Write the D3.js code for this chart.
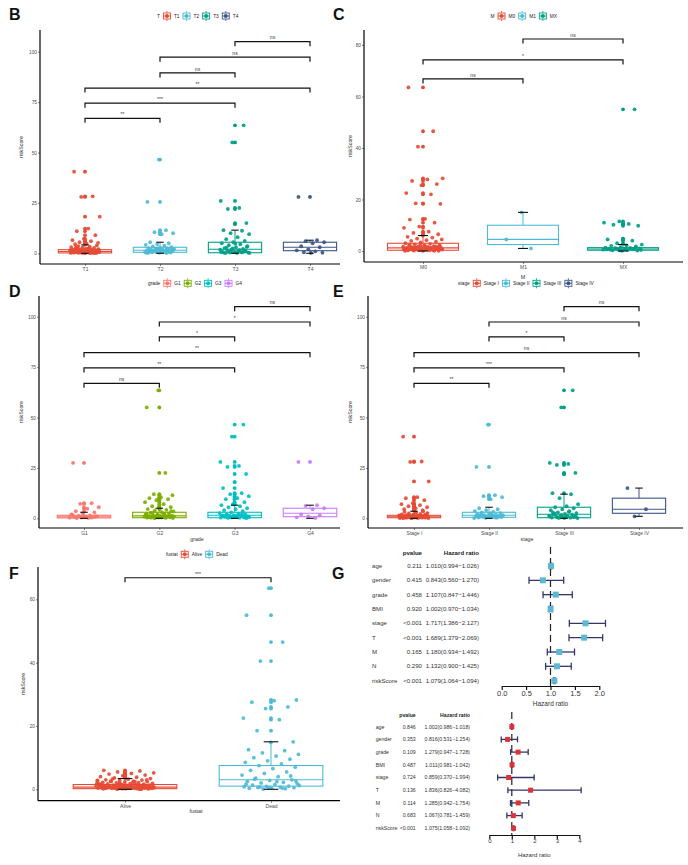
<!DOCTYPE html>
<html><head><meta charset="utf-8">
<script src="https://cdn.jsdelivr.net/npm/d3@7"></script>
<style>body{margin:0;background:#fff}svg{display:block}text{font-family:"Liberation Sans",Arial,Helvetica,sans-serif}</style>
</head><body><svg id="c" width="688" height="865"></svg>
<script>
// ---------- DATA ----------
const npg = ["#E64B35","#4DBBD5","#00A087","#3C5488"];
const hue4 = ["#F8766D","#7CAE00","#00BFC4","#C77CFF"];

// Panel B: T
const tCats = ["T1","T2","T3","T4"];
const tStats = [[0,0.2,0.9,1.8,4.2],[0,0.5,1.5,3.0,5.5],[0,0.3,2.0,5.5,11.5],[0,1.3,3.0,5.5,6.5]]; // [wlo,q1,med,q3,whi]
const tPoints = [
 [40.5,28.3,28.0,18.2,12.3,11.0,9.0,7.2,6.5,6.0,5.5,5.2,4.8,4.5,0.1,0.2,0.2,0.3,0.3,0.4,0.4,0.5,0.5,0.6,0.6,0.7,0.7,0.8,0.8,0.9,0.9,1.0,1.0,1.1,1.2,1.2,1.3,1.4,1.5,1.5,1.6,1.7,1.8,1.9,2.0,2.1,2.3,2.5,2.7,2.9,3.1,3.3,3.6,3.9,0.15,0.35,0.55,0.75,0.95,1.15,1.35,0.25,0.45,0.65,0.1,0.3,0.5,0.7,0.9,1.1,1.3,1.6,2.2,2.6,0.2,0.4,0.6,0.8,1.0,1.4,1.8,3.0],
 [46.5,25.5,11.5,10.5,10.0,9.5,5.5,5.0,4.6,4.2,3.8,3.4,3.0,2.8,2.6,2.4,2.2,2.0,1.9,1.8,1.7,1.6,1.5,1.4,1.3,1.2,1.1,1.0,0.9,0.8,0.7,0.6,0.5,0.4,0.3,0.2,0.1,1.5,2.1,0.9,1.2,0.6,2.5,0.3,0.8,1.0,1.4,1.9,0.5,2.3,0.7],
 [63.5,55.0,26.0,22.5,22.0,15.0,14.5,11.5,11.2,10.0,9.5,8.0,7.0,6.2,5.5,5.0,4.5,4.0,3.5,3.0,2.6,2.2,2.0,1.8,1.5,1.3,1.1,0.9,0.7,0.5,0.4,0.3,0.2,0.1,1.0,2.5,0.6,1.6,0.8,3.2,4.8,0.35,0.5,1.2,0.2,0.9,2.8,1.4],
 [28.0,6.5,6.0,5.5,5.0,3.5,3.0,2.0,1.5,1.0,0.5,0.3,0.2]
];
const tComps = [[2,3,105,"ns"],[1,3,97.3,"ns"],[1,2,89.5,"ns"],[0,3,82,"**"],[0,2,74.5,"***"],[0,1,67,"**"]];

// Panel C: M
const mCats = ["M0","M1","MX"];
const mStats = [[0,0.3,1.2,3.0,6.0],[1,2.5,4.5,10,15],[0,0.3,0.8,1.3,2.5]];
const mPoints = [
 [63.5,46.5,40.5,28.2,27.8,27.2,26.0,25.5,22.5,22.0,18.5,18.3,12.5,12.2,11.0,9.5,9.0,7.5,7.0,6.5,6.0,5.5,5.2,4.8,4.5,4.2,3.9,3.6,3.3,3.0,2.8,2.6,2.4,2.2,2.0,1.9,1.8,1.7,1.6,1.5,1.4,1.3,1.2,1.1,1.0,0.9,0.8,0.7,0.6,0.5,0.4,0.3,0.2,0.1,0.15,0.25,0.35,0.45,0.55,0.65,0.75,0.85,0.95,1.05,1.25,1.45,1.65,2.1,2.5,0.05,0.5,0.8,1.0,0.3,0.6,0.2,0.4,0.7,0.9,1.1,1.3,1.5,1.8,2.3,0.1,0.5,1.0,1.6],
 [15,4.5,1],
 [55,11.5,11.0,10.5,10.2,9.8,4.8,4.5,4.0,3.0,2.5,2.2,2.0,1.8,1.5,1.3,1.2,1.1,1.0,0.9,0.8,0.7,0.6,0.5,0.4,0.3,0.2,0.1,0.6,0.9,1.0,0.4,0.7,0.5,1.2,0.3]
];
const mComps = [[1,2,82.3,"ns"],[0,2,74.2,"*"],[0,1,66.8,"ns"]];

// Panel D: grade
const gCats = ["G1","G2","G3","G4"];
const gStats = [[0,0.2,0.7,1.5,3.0],[0,0.3,1.2,3.0,5.0],[0,0.3,1.5,3.0,6.5],[0,0.8,2.5,5.0,6.5]];
const gPoints = [
 [27.5,7.5,7.2,5.5,4.8,3.5,3.0,2.5,2.0,1.5,1.2,1.0,0.8,0.6,0.5,0.4,0.3,0.2,0.1,0.9,0.7,1.8,0.35],
 [63.5,55,22.5,12,11.5,10.5,10,9.5,9,8,7,6,5.5,5.0,4.6,4.2,3.8,3.4,3.0,2.7,2.4,2.1,1.9,1.7,1.5,1.3,1.2,1.1,1.0,0.9,0.8,0.7,0.6,0.5,0.4,0.3,0.2,0.1,0.15,0.45,0.75,1.05,1.35,1.65,2.2,2.8,3.6,4.4,0.55,0.85,0.25,1.0,0.6,0.3,0.8,1.4,2.0],
 [46.5,40.5,28,26,25.5,22,18,15,12.5,12,11,10,9.5,8,7,6.5,6.0,5.5,5.0,4.5,4.0,3.5,3.0,2.6,2.3,2.0,1.8,1.6,1.5,1.4,1.2,1.0,0.8,0.7,0.6,0.5,0.4,0.3,0.2,0.1,0.9,1.1,2.2,0.45,0.65,1.3,1.7,0.3,0.8,1.2],
 [28,6.5,6.2,5.0,4.5,2.0,1.5,1.0,0.5,0.2]
];
const gComps = [[2,3,105,"ns"],[1,3,97.4,"*"],[1,2,90,"*"],[0,3,82.2,"**"],[0,2,74.6,"**"],[0,1,67,"ns"]];

// Panel E: stage
const sCats = ["Stage I","Stage II","Stage III","Stage IV"];
const sStats = [[0,0.3,0.8,1.5,3.5],[0,0.5,1.5,3.0,5.5],[0,0.3,2.0,5.5,12],[1,2.5,4.5,10,15]];
const sPoints = [
 [40.5,28.2,28.0,18.3,10.5,10.0,9.0,7.5,7.0,6.5,6.0,5.5,5.0,4.5,4.0,0.1,0.2,0.2,0.3,0.3,0.4,0.4,0.5,0.5,0.6,0.6,0.7,0.7,0.8,0.8,0.9,0.9,1.0,1.0,1.1,1.2,1.3,1.4,1.5,1.6,1.7,1.8,2.0,2.2,2.4,2.6,2.9,3.2,3.4,0.15,0.35,0.55,0.75,0.95,1.15,0.25,0.45,0.65,0.1,0.3,0.5,0.7,0.9,1.1,1.3,1.6,2.1,2.8,0.2,0.4,0.6,0.8,1.0],
 [46.5,25.5,11.5,11.0,10.5,9.5,5.0,4.5,4.0,3.6,3.2,2.9,2.6,2.3,2.0,1.8,1.6,1.5,1.4,1.2,1.1,1.0,0.9,0.8,0.7,0.6,0.5,0.4,0.3,0.2,0.1,1.3,2.2,0.9,0.6,1.7,0.4,1.0,1.5,2.5,0.7],
 [63.5,55,27.5,27.0,26.5,22.5,22.0,12.5,12.0,10.0,7.0,6.0,5.5,5.0,4.5,4.0,3.5,3.0,2.6,2.2,2.0,1.8,1.5,1.3,1.1,0.9,0.7,0.5,0.4,0.3,0.2,0.1,1.0,2.4,0.6,1.6,0.8,3.2,0.5,1.2,0.2,2.8],
 [15,4.5,1]
];
const sComps = [[2,3,105,"ns"],[1,3,97.4,"ns"],[1,2,90,"*"],[0,3,82.2,"ns"],[0,2,74.6,"***"],[0,1,67,"**"]];

// Panel F: fustat
const fCats = ["Alive","Dead"];
const fStats = [[0,0.2,0.7,1.5,3.4],[0,1.0,3.0,7.5,15]];
const fPoints = [
 [6.0,5.8,5.5,5.2,5.0,4.8,4.5,4.3,4.0,3.8,3.6,3.4,3.2,3.0,2.9,2.8,2.7,2.6,2.5,2.4,2.3,2.2,2.1,2.0,1.9,1.8,1.7,1.6,1.5,1.45,1.4,1.35,1.3,1.25,1.2,1.15,1.1,1.05,1.0,0.95,0.9,0.85,0.8,0.75,0.7,0.65,0.6,0.55,0.5,0.45,0.4,0.35,0.3,0.25,0.2,0.15,0.1,0.05,1.0,0.8,0.6,0.4,0.2,1.2,1.4,0.9,0.7,0.5,0.3,0.1,1.6,1.8,2.2,2.6,3.0,0.6,0.4,0.8,1.1,0.3,0.5,0.7,0.9,1.3,1.7,2.4,3.3,0.2,0.6,1.0,0.1,0.3,0.5,0.7,0.9,1.1,1.3,1.5,0.2,0.4,0.6,0.8,1.0,1.2,2.0,2.8],
 [63.5,55,46.5,40.5,28.2,28,27.5,26,25.5,22.5,22,18.5,15,14.8,12.5,12.2,11.5,11,10.5,10,9.5,9,8.5,8,7.5,7,6.5,6,5.5,5,4.5,4,3.5,3,2.8,2.5,2.2,2,1.8,1.5,1.3,1,0.9,0.8,0.7,0.6,0.5,0.4,0.3,0.2,0.1,1.2,2.4,3.2,4.2,0.6,1.6,0.35,0.75,2.6]
];
const fComps = [[0,1,66.8,"***"]];

// Panel G: Cox regression
const coxVars = ["age","gender","grade","BMI","stage","T","M","N","riskScore"];
const uniP = ["0.211","0.415","0.458","0.920","<0.001","<0.001","0.165","0.290","<0.001"];
const uniHR = [1.010,0.843,1.107,1.002,1.717,1.689,1.180,1.132,1.079];
const uniLow = [0.994,0.560,0.847,0.970,1.386,1.379,0.934,0.900,1.064];
const uniHigh = [1.026,1.270,1.446,1.034,2.127,2.069,1.492,1.425,1.094];
const multiP = ["0.846","0.353","0.109","0.487","0.724","0.136","0.114","0.683","<0.001"];
const multiHR = [1.002,0.816,1.279,1.011,0.859,1.836,1.285,1.067,1.075];
const multiLow = [0.986,0.531,0.947,0.981,0.370,0.826,0.942,0.781,1.058];
const multiHigh = [1.018,1.254,1.728,1.042,1.994,4.082,1.754,1.459,1.092];
const uniTicks = [0,0.5,1,1.5,2];
const multiTicks = [0,1,2,3,4];

// ---------- DRAWING ----------
const svg = d3.select('#c');
const jit = i => (((i*0.6180339887 + 0.137) % 1) * 2 - 1);

function label(x,y,t,size){
  svg.append('text').attr('x',x).attr('y',y).attr('font-size',size||16).attr('font-weight','bold').attr('fill','#111').text(t);
}

function legend(title, labels, colors, x0, yc){
  const g = svg.append('g');
  let x = x0;
  const t = g.append('text').attr('x',x).attr('y',yc).attr('dy','0.35em').attr('font-size',4.8).attr('fill','#222').text(title);
  x += t.node().getComputedTextLength() + 3;
  labels.forEach((l,i)=>{
    const kx = x+4;
    g.append('line').attr('x1',kx).attr('x2',kx).attr('y1',yc-5).attr('y2',yc+5).attr('stroke',colors[i]).attr('stroke-width',0.8);
    g.append('rect').attr('x',kx-3.5).attr('y',yc-3).attr('width',7).attr('height',6).attr('fill','#fff').attr('stroke',colors[i]).attr('stroke-width',0.9);
    g.append('line').attr('x1',kx-3.5).attr('x2',kx+3.5).attr('y1',yc).attr('y2',yc).attr('stroke',colors[i]).attr('stroke-width',0.9);
    g.append('circle').attr('cx',kx).attr('cy',yc).attr('r',2).attr('fill',colors[i]);
    x += 11;
    const tt = g.append('text').attr('x',x).attr('y',yc).attr('dy','0.35em').attr('font-size',4.8).attr('fill','#222').text(l);
    x += tt.node().getComputedTextLength() + 3;
  });
}

function boxPanel(p){
  const g = svg.append('g');
  const y = d3.scaleLinear().domain(p.yDomain).range([p.bottom, p.top]);
  const x = d3.scalePoint().domain(p.cats).range(p.xRange);
  const step = p.cats.length>1 ? (p.xRange[1]-p.xRange[0])/(p.cats.length-1) : 100;
  const yAx = g.append('g').attr('transform',`translate(${p.axisX},0)`)
    .call(d3.axisLeft(y).tickValues(p.yTicks).tickSize(2).tickSizeOuter(0).tickFormat(d3.format('d')));
  yAx.select('.domain').attr('stroke','#000').attr('stroke-width',1.2).attr('d',`M0,${p.top}V${p.bottom}`);
  yAx.selectAll('.tick line').attr('stroke','#333').attr('stroke-width',0.6);
  yAx.selectAll('.tick text').attr('font-size',4.8).attr('fill','#4d4d4d').attr('x',-3).attr('font-family','Liberation Sans, Arial, sans-serif');
  const xAx = g.append('g').attr('transform',`translate(0,${p.bottom})`)
    .call(d3.axisBottom(x).tickSize(2).tickSizeOuter(0));
  xAx.select('.domain').attr('stroke','#000').attr('stroke-width',1.2).attr('d',`M${p.axisX},0H${p.right}`);
  xAx.selectAll('.tick line').attr('stroke','#333').attr('stroke-width',0.6);
  xAx.selectAll('.tick text').attr('font-size',5).attr('fill','#4d4d4d').attr('y',3.5).attr('font-family','Liberation Sans, Arial, sans-serif');
  g.append('text').attr('transform',`translate(${p.yTitleX},${(p.top+p.bottom)/2}) rotate(-90)`).attr('text-anchor','middle').attr('font-size',5.3).attr('fill','#333').text('riskScore');
  if(p.xTitle) g.append('text').attr('x',p.xTitlePos[0]).attr('y',p.xTitlePos[1]).attr('text-anchor','middle').attr('font-size',5.3).attr('fill','#333').text(p.xTitle);
  const bw = step*0.71, capW = step*0.1, jw = step*0.2;
  p.cats.forEach((c,i)=>{
    const s = p.stats[i], col = p.colors[i], cx = x(c);
    g.append('line').attr('x1',cx).attr('x2',cx).attr('y1',y(s[0])).attr('y2',y(s[1])).attr('stroke',col).attr('stroke-width',1);
    g.append('line').attr('x1',cx).attr('x2',cx).attr('y1',y(s[3])).attr('y2',y(s[4])).attr('stroke',col).attr('stroke-width',1);
    g.append('rect').attr('x',cx-bw/2).attr('y',y(s[3])).attr('width',bw).attr('height',Math.max(1,y(s[1])-y(s[3]))).attr('fill','#fff').attr('stroke',col).attr('stroke-width',1.1);
    g.append('line').attr('x1',cx-bw/2).attr('x2',cx+bw/2).attr('y1',y(s[2])).attr('y2',y(s[2])).attr('stroke',col).attr('stroke-width',1.1);
    const pts = p.points[i];
    pts.forEach((v,j)=>{
      if(v > s[4] || v < s[0]) g.append('circle').attr('cx',cx).attr('cy',y(v)).attr('r',1.9).attr('fill',col);
    });
    pts.forEach((v,j)=>{
      g.append('circle').attr('cx',cx + jit(j+i*7)*jw).attr('cy',y(v)).attr('r',1.9).attr('fill',col).attr('fill-opacity',0.92);
    });
    g.append('line').attr('x1',cx-capW/2).attr('x2',cx+capW/2).attr('y1',y(s[4])).attr('y2',y(s[4])).attr('stroke','#111').attr('stroke-width',1.1);
    g.append('line').attr('x1',cx-capW/2).attr('x2',cx+capW/2).attr('y1',y(s[0])).attr('y2',y(s[0])).attr('stroke','#111').attr('stroke-width',1.1);
  });
  p.comps.forEach(cm=>{
    const x1 = x(p.cats[cm[0]]), x2 = x(p.cats[cm[1]]), yy = y(cm[2]);
    g.append('path').attr('d',`M${x1},${yy+4.5}V${yy}H${x2}V${yy+4.5}`).attr('fill','none').attr('stroke','#111').attr('stroke-width',1.2);
    g.append('text').attr('x',(x1+x2)/2).attr('y',yy-2.2).attr('text-anchor','middle').attr('font-size',5).attr('fill','#333').text(cm[3]);
  });
  legend(p.legTitle, p.cats, p.colors, p.legX, p.legY);
}

boxPanel({cats:tCats,stats:tStats,points:tPoints,comps:tComps,colors:npg,
  yDomain:[-5.3,110.8],top:30,bottom:264,axisX:40,right:340,xRange:[85,310],yTicks:[0,25,50,75,100],
  yTitleX:23,legTitle:"T",legX:157,legY:16});
boxPanel({cats:mCats,stats:mStats,points:mPoints,comps:mComps,colors:npg.slice(0,3),
  yDomain:[-4.27,85.8],top:30,bottom:262,axisX:364,right:683,xRange:[423,623],yTicks:[0,20,40,60,80],
  yTitleX:352,xTitle:"M",xTitlePos:[523,279],legTitle:"M",legX:490.5,legY:16});
boxPanel({cats:gCats,stats:gStats,points:gPoints,comps:gComps,colors:hue4,
  yDomain:[-4.8,110.3],top:296,bottom:528,axisX:39,right:340,xRange:[84,310],yTicks:[0,25,50,75,100],
  yTitleX:23,xTitle:"grade",xTitlePos:[197,541],legTitle:"grade",legX:148,legY:283.3});
boxPanel({cats:sCats,stats:sStats,points:sPoints,comps:sComps,colors:npg,
  yDomain:[-4.8,110.3],top:296,bottom:528,axisX:368,right:683,xRange:[414,639],yTicks:[0,25,50,75,100],
  yTitleX:352,xTitle:"stage",xTitlePos:[527,541],legTitle:"stage",legX:458,legY:283.3});
boxPanel({cats:fCats,stats:fStats,points:fPoints,comps:fComps,colors:npg.slice(0,2),
  yDomain:[-3.6,70.2],top:567,bottom:800.7,axisX:38,right:340,xRange:[125,271],yTicks:[0,20,40,60],
  yTitleX:25,xTitle:"fustat",xTitlePos:[196,813],legTitle:"fustat",legX:166,legY:554.3});

function forest(f){
  const g = svg.append('g');
  const x = d3.scaleLinear().domain(f.domain).range(f.range);
  const tc = '#333';
  g.append('text').attr('x',f.pX).attr('y',f.headerY).attr('dy','0.35em').attr('text-anchor','end').attr('font-size',f.font).attr('font-weight','bold').attr('fill','#222').text('pvalue');
  g.append('text').attr('x',f.hrX).attr('y',f.headerY).attr('dy','0.35em').attr('text-anchor','end').attr('font-size',f.font).attr('font-weight','bold').attr('fill','#222').text('Hazard ratio');
  g.append('line').attr('x1',x(1)).attr('x2',x(1)).attr('y1',f.refTop).attr('y2',f.axisY).attr('stroke','#222').attr('stroke-width',1.2).attr('stroke-dasharray','7,4');
  f.vars.forEach((v,i)=>{
    const yy = f.row0 + i*f.rowStep;
    g.append('text').attr('x',f.labelX).attr('y',yy).attr('dy','0.35em').attr('font-size',f.font).attr('fill',tc).text(v);
    g.append('text').attr('x',f.pX).attr('y',yy).attr('dy','0.35em').attr('text-anchor','end').attr('font-size',f.font).attr('fill',tc).text(f.p[i]);
    g.append('text').attr('x',f.hrX).attr('y',yy).attr('dy','0.35em').attr('text-anchor','end').attr('font-size',f.font).attr('fill',tc)
      .text(`${f.hr[i].toFixed(3)}(${f.lo[i].toFixed(3)}\u2212${f.hi[i].toFixed(3)})`);
    const x1 = x(f.lo[i]), x2 = x(f.hi[i]);
    g.append('line').attr('x1',x1).attr('x2',x2).attr('y1',yy).attr('y2',yy).attr('stroke',f.barCol).attr('stroke-width',1.3);
    [x1,x2].forEach(xx=>g.append('line').attr('x1',xx).attr('x2',xx).attr('y1',yy-f.cap).attr('y2',yy+f.cap).attr('stroke',f.barCol).attr('stroke-width',1.3));
    g.append('rect').attr('x',x(f.hr[i])-f.sq/2).attr('y',yy-f.sq/2).attr('width',f.sq).attr('height',f.sq).attr('fill',f.ptCol);
  });
  const ax = g.append('g').attr('transform',`translate(0,${f.axisY})`)
    .call(d3.axisBottom(x).tickValues(f.ticks).tickSize(4).tickSizeOuter(0).tickFormat(d3.format(f.fmt)));
  ax.select('.domain').attr('stroke','#111').attr('stroke-width',1.2);
  ax.selectAll('.tick line').attr('stroke','#111').attr('stroke-width',1.2);
  ax.selectAll('.tick text').attr('font-size',f.tickFont).attr('fill','#333').attr('y',f.tickDy).attr('font-family','Liberation Sans, Arial, sans-serif');
  g.append('text').attr('x',(f.range[0]+f.range[1])/2).attr('y',f.titleY).attr('text-anchor','middle').attr('font-size',f.titleFont).attr('fill','#333').text('Hazard ratio');
}
forest({vars:coxVars,p:uniP,hr:uniHR,lo:uniLow,hi:uniHigh,domain:[0,2],range:[501.7,599.3],ticks:uniTicks,fmt:'.1f',
  row0:566,rowStep:14.33,labelX:372,pX:422,hrX:479,font:6.1,headerY:552.7,axisY:686,refTop:547,
  barCol:'#33366b',ptCol:'#5DB8D3',sq:6,cap:3.5,tickFont:7.5,tickDy:5,titleY:706,titleFont:6.5});
forest({vars:coxVars,p:multiP,hr:multiHR,lo:multiLow,hi:multiHigh,domain:[0,4],range:[489.3,579.3],ticks:multiTicks,fmt:'d',
  row0:726.7,rowStep:12.7,labelX:375.7,pX:415.7,hrX:470,font:5.2,headerY:714.7,axisY:835,refTop:712,
  barCol:'#33366b',ptCol:'#E0303A',sq:5,cap:3,tickFont:6,tickDy:4,titleY:857,titleFont:6});

label(9,20,"B"); label(333,20,"C"); label(9,297,"D"); label(333,297,"E"); label(9,579,"F"); label(332,579,"G");
</script></body></html>
